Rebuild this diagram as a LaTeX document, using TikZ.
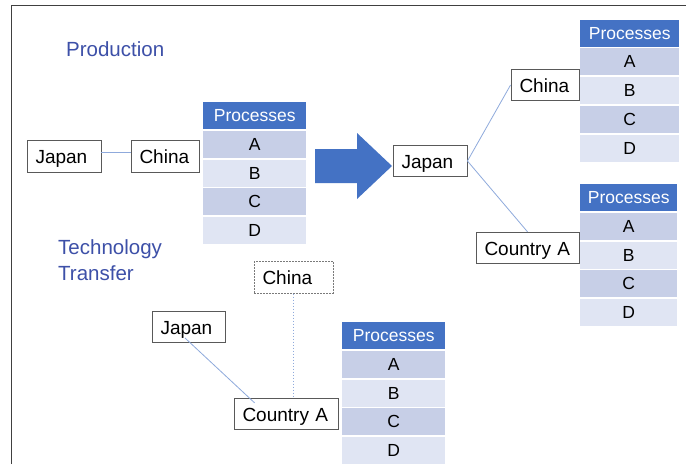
\documentclass[tikz,border=0pt]{standalone}
\usepackage{fontspec}
\setmainfont{Liberation Sans}
\usetikzlibrary{calc}

\definecolor{hdrblue}{HTML}{4472C4}
\definecolor{rowdark}{HTML}{C7CFE7}
\definecolor{rowlight}{HTML}{E0E5F3}
\definecolor{linkblue}{HTML}{8FAADC}
\definecolor{titleblue}{HTML}{3D50A8}
\definecolor{boxline}{HTML}{595959}
\definecolor{frameline}{HTML}{404040}

\tikzset{
  phead/.style={anchor=north west, fill=hdrblue, text=white, minimum height=27pt,
    inner sep=0pt, font=\fontsize{17.5}{20}\selectfont},
  prow/.style={anchor=north west, minimum height=27pt, inner sep=0pt,
    font=\fontsize{17.5}{20}\selectfont},
  cbox/.style={draw=boxline, line width=0.9pt, fill=white, inner xsep=8.5pt,
    inner ysep=0pt, align=left, minimum height=31.5pt, text height=14pt,
    text depth=0pt, font=\fontsize{19}{22}\selectfont},
  link/.style={draw=linkblue, line width=0.8pt},
  title/.style={text=titleblue, inner sep=0pt, anchor=west, align=left,
    font=\fontsize{20.5}{26}\selectfont},
}

% table of processes: name, left x, top y, width
\newcommand\proctable[4]{%
  \node[phead, minimum width=#4] (#1h) at (#2,#3) {Processes};
  \foreach \l/\f [count=\i] in {A/rowdark,B/rowlight,C/rowdark,D/rowlight}
    \node[prow, fill=\f, minimum width=#4] (#1\l) at (#2,#3+28.75*\i) {\l};
}

\begin{document}
\begin{tikzpicture}[x=1pt,y=-1pt]
  \fill[white] (0,0) rectangle (686,464);
  \useasboundingbox (0,0) rectangle (686,464);

  % frame
  \draw[frameline, line width=1.3pt] (11.5,464) -- (11.5,5.5) -- (686,5.5);

  % headings
  \node[title] (hprod) at (66,49) {Production};
  \node[title] (htech) at (58,260.5) {Technology\\Transfer};

  % production, before
  \node[cbox, text width=57pt] (jp1) at (64,156.5) {Japan};
  \node[cbox, text width=51pt] (cn1) at (165,156.5) {China};
  \draw[link] ([yshift=4pt]jp1.east) -- ([yshift=4pt]cn1.west);
  \proctable{ta}{203}{102}{103}

  % big arrow
  \fill[hdrblue] (315,149) -- (357,149) -- (357,133) -- (392,166)
    -- (357,199) -- (357,183) -- (315,183) -- cycle;

  % production, after
  \proctable{tb}{580}{19.5}{99}
  \proctable{tc}{580}{184}{97}
  \node[cbox, text width=57pt] (jp2) at (430,161) {Japan};
  \node[cbox, text width=51pt] (cn2) at (545,85) {China};
  \node[cbox, text width=86pt] (ca2) at (527.5,248) {Country A};
  \draw[link] (jp2.east) -- (cn2.west);
  \draw[link] (jp2.east) -- (ca2.north);

  % technology transfer
  \node[cbox, draw=boxline!80, line width=0.8pt, dash pattern=on 1.8pt off 1.2pt,
    text width=62pt] (cn3) at (293.5,277.5) {China};
  \node[cbox, text width=56pt] (jp3) at (188.5,327) {Japan};
  \node[cbox, text width=87pt] (ca3) at (286,414) {Country A};
  \draw[link, dash pattern=on 1.5pt off 1.5pt]
    (cn3.south) -- (cn3.south |- ca3.north);
  \coordinate (jp3end) at ($(jp3.center)+(-3.5,11)$);
  \coordinate (ca3end) at ($(ca3.north west)+(21,5)$);
  \draw[link] (jp3end) -- (ca3end);
  \proctable{td}{342}{322}{103}
\end{tikzpicture}
\end{document}
